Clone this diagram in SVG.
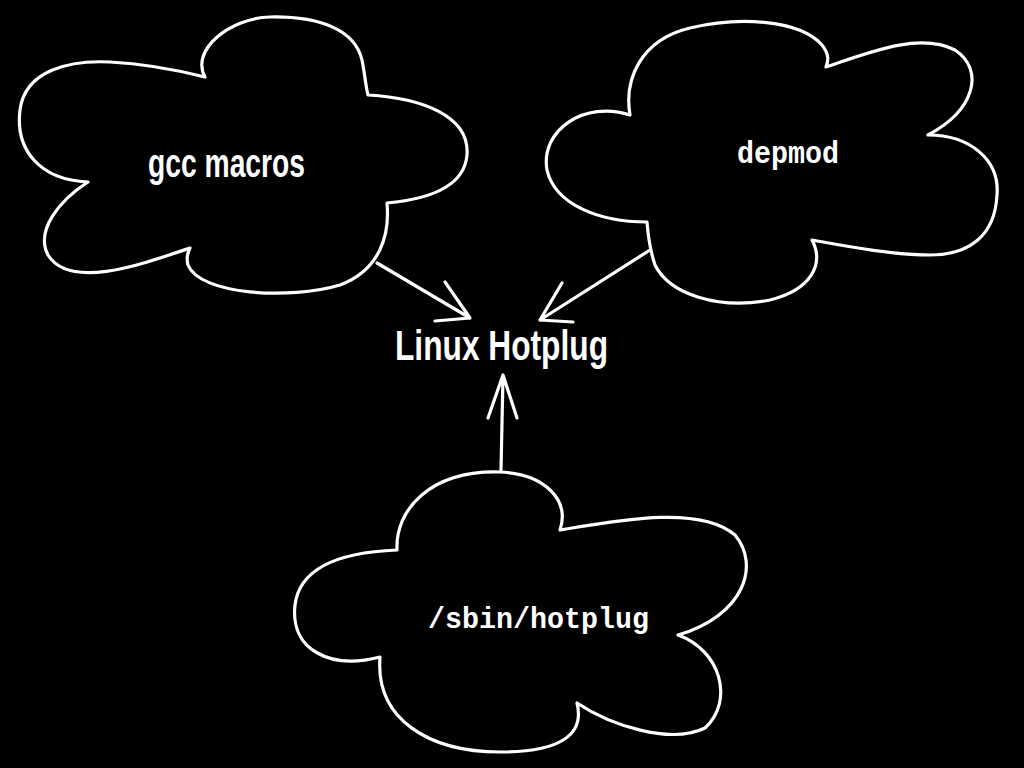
<svg xmlns="http://www.w3.org/2000/svg" width="1024" height="768" viewBox="0 0 1024 768">
<style>
.cloud{fill:#000;stroke:#fff;stroke-width:3.2;stroke-linejoin:round}
.conn{fill:none;stroke:#fff;stroke-width:3.2;stroke-linecap:round;stroke-linejoin:round}
.sans{font-family:"Liberation Sans Narrow","Liberation Sans",Arial,sans-serif;font-weight:bold;fill:#fff}
.mono{font-family:"Liberation Mono","Courier New",monospace;font-weight:bold;fill:#fff}
</style>
<rect width="1024" height="768" fill="#000"/>
<g id="connectors">
<path class="conn" d="M377,263 L470,318 M445,282 L470,318 L435,321"/>
<path class="conn" d="M650,250 L540,320 M562,283 L540,320 L573,322"/>
<path class="conn" d="M501,470 L503,376 M488,418 L503,375 L517,418"/>
</g>
<g id="gcc-macros">
<path class="cloud" d="M205,77 C190,50 230,18 270,17 C320,16 355,30 362,60 C365,75 366,88 368,95 C420,98 470,115 467,155 C464,190 420,200 387,203 C390,235 380,270 340,285 C290,300 200,295 188,265 C186,258 188,252 190,248 C140,265 70,290 48,255 C35,230 60,200 88,182 C40,180 15,150 20,110 C25,70 70,60 110,62 C150,64 185,72 205,77 Z"/>
<text class="sans" x="148" y="177" font-size="40" textLength="157" lengthAdjust="spacingAndGlyphs">gcc macros</text>
</g>
<g id="depmod">
<path class="cloud" d="M630,115 C624,80 640,40 690,28 C740,16 800,20 822,45 C830,55 828,62 826,67 C870,52 920,32 955,50 C985,70 975,110 928,135 C970,135 1000,160 997,195 C995,235 970,255 930,255 C890,255 840,245 812,240 C825,265 810,290 770,300 C720,310 670,295 655,265 C650,250 648,235 647,222 C600,222 555,205 547,170 C540,130 585,100 630,115 Z"/>
<text class="mono" x="737" y="163" font-size="32" textLength="102" lengthAdjust="spacingAndGlyphs">depmod</text>
</g>
<g id="sbin-hotplug">
<path class="cloud" d="M397,550 C395,510 430,470 500,472 C545,474 570,500 560,530 C620,520 700,505 735,535 C760,565 745,615 678,635 C720,650 735,700 705,728 C670,745 610,725 577,703 C585,735 560,752 500,752 C430,752 375,720 380,657 C330,670 290,650 295,605 C300,565 345,552 397,550 Z"/>
<text class="mono" x="428" y="628" font-size="29" textLength="221" lengthAdjust="spacingAndGlyphs">/sbin/hotplug</text>
</g>
<g id="linux-hotplug">
<text class="sans" x="395" y="360" font-size="42" textLength="213" lengthAdjust="spacingAndGlyphs">Linux Hotplug</text>
</g>
</svg>
